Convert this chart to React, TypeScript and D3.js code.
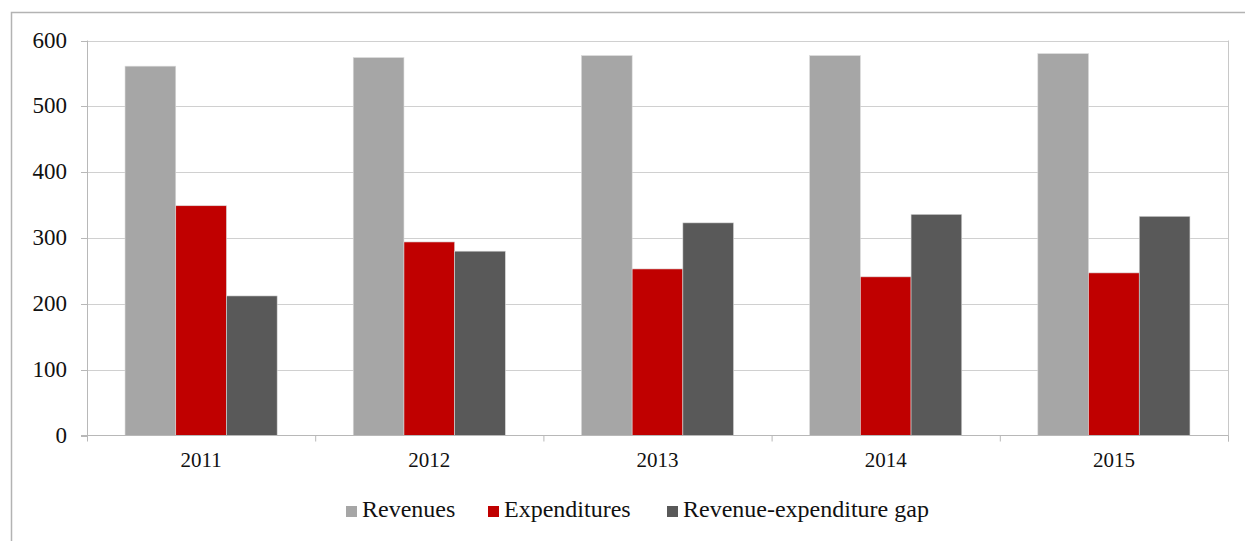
import React from 'react';
import * as d3 from 'd3';

const years = ['2011', '2012', '2013', '2014', '2015'];
const seriesNames = ['Revenues', 'Expenditures', 'Revenue-expenditure gap'];
const revenues = [561, 574, 577, 577, 580];
const expenditures = [349, 294, 253, 241, 247];
const gap = [212, 280, 323, 336, 333];
const yTicks = [0, 100, 200, 300, 400, 500, 600];
const colors = ['#A6A6A6', '#C00000', '#595959'];

const W = 1245;
const H = 541;
const plot = {left: 87, right: 1228, top: 40.5, bottom: 435.5};
const textStyle = {
  fontFamily: "'Liberation Serif', Tinos, 'DejaVu Serif', serif",
  fill: '#111',
};

const App = () => {
  const values = [revenues, expenditures, gap];

  const x = d3
    .scaleBand<string>()
    .domain(years)
    .range([plot.left, plot.right])
    .paddingInner(0)
    .paddingOuter(0);

  // 150% gap width: 3 bars + 1.5 bar widths of gap per category
  const barW = x.bandwidth() / 4.5;
  const inner = d3
    .scaleBand<number>()
    .domain([0, 1, 2])
    .range([barW * 0.75, barW * 3.75]);

  const y = d3.scaleLinear().domain([0, 600]).range([plot.bottom, plot.top]);

  const legendX = [346, 488, 667];

  return (
    <svg
      width={W}
      height={H}
      style={{position: 'absolute', left: 0, top: 0, background: '#fff'}}>
      {/* outer chart frame */}
      <rect
        x={11.5}
        y={12.5}
        width={W + 20}
        height={H + 20}
        fill="none"
        stroke="#B3B3B3"
        strokeWidth={1.5}
      />

      {/* gridlines */}
      {yTicks.slice(1).map(t => (
        <line
          key={t}
          x1={plot.left}
          x2={plot.right}
          y1={Math.round(y(t)) + 0.5}
          y2={Math.round(y(t)) + 0.5}
          stroke="#D0D0D0"
          strokeWidth={1}
        />
      ))}
      <line
        x1={plot.right + 0.5}
        x2={plot.right + 0.5}
        y1={plot.top}
        y2={plot.bottom + 6}
        stroke="#C8C8C8"
      />

      {/* bars */}
      {years.map((yr, i) =>
        values.map((s, j) => (
          <rect
            key={yr + j}
            x={(x(yr) as number) + (inner(j) as number)}
            y={y(s[i])}
            width={inner.bandwidth()}
            height={plot.bottom - y(s[i])}
            fill={colors[j]}
            stroke="#D9D9D9"
            strokeWidth={0.6}
          />
        ))
      )}

      {/* axes */}
      <line
        x1={plot.left + 0.5}
        x2={plot.left + 0.5}
        y1={plot.top}
        y2={plot.bottom + 6}
        stroke="#B8B8B8"
      />
      <line
        x1={plot.left - 6}
        x2={plot.right}
        y1={plot.bottom}
        y2={plot.bottom}
        stroke="#B8B8B8"
      />
      {yTicks.map(t => (
        <g key={t}>
          <line
            x1={plot.left - 6}
            x2={plot.left}
            y1={Math.round(y(t)) + 0.5}
            y2={Math.round(y(t)) + 0.5}
            stroke="#B8B8B8"
          />
          <text
            x={67}
            y={y(t) + 7}
            textAnchor="end"
            style={{...textStyle, fontSize: 23}}>
            {t}
          </text>
        </g>
      ))}
      {years.map(yr => (
        <g key={yr}>
          <line
            x1={(x(yr) as number) + x.bandwidth() + 0.5}
            x2={(x(yr) as number) + x.bandwidth() + 0.5}
            y1={plot.bottom}
            y2={plot.bottom + 6}
            stroke="#B8B8B8"
          />
          <text
            x={(x(yr) as number) + x.bandwidth() / 2}
            y={467}
            textAnchor="middle"
            style={{...textStyle, fontSize: 21}}>
            {yr}
          </text>
        </g>
      ))}

      {/* legend */}
      {seriesNames.map((name, j) => (
        <g key={name}>
          <rect x={legendX[j]} y={506} width={11} height={11} fill={colors[j]} />
          <text x={legendX[j] + 16} y={517} style={{...textStyle, fontSize: 24}}>
            {name}
          </text>
        </g>
      ))}
    </svg>
  );
};

export default App;
